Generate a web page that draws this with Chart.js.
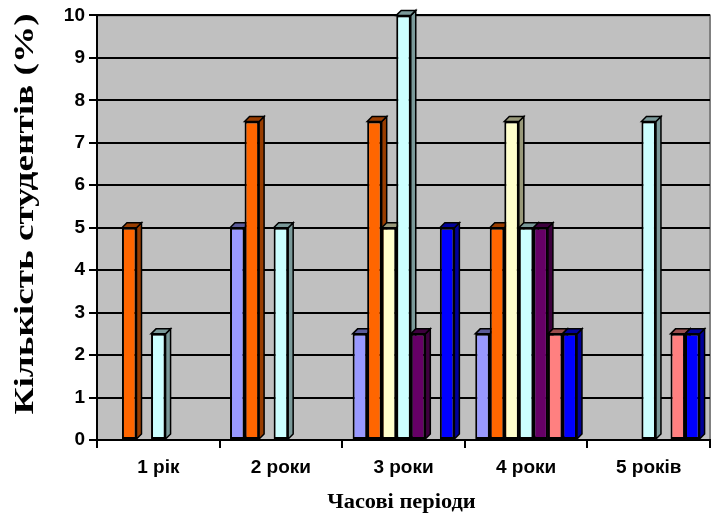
<!DOCTYPE html>
<html>
<head>
<meta charset="utf-8">
<script src="https://cdn.jsdelivr.net/npm/chart.js@4"></script>
<style>
  body { margin: 0; background: #fff; }
  #wrap { width: 713px; height: 518px; }
</style>
</head>
<body>
<div id="wrap"><canvas id="studentsChart" width="713" height="518"></canvas></div>
<script>
// categories and series
const periods = ["1 рік", "2 роки", "3 роки", "4 роки", "5 років"];
const series1 = [0, 5, 2.5, 2.5, 0];
const series2 = [5, 7.5, 7.5, 5, 0];
const series3 = [0, 0, 5, 7.5, 0];
const series4 = [2.5, 5, 10, 5, 7.5];
const series5 = [0, 0, 2.5, 5, 0];
const series6 = [0, 0, 0, 2.5, 2.5];
const series7 = [0, 0, 5, 2.5, 2.5];
const yTicks = [0, 1, 2, 3, 4, 5, 6, 7, 8, 9, 10];
const yTitle = "Кількість студентів (%)";
const xTitle = "Часові періоди";

const fronts = ["#9999FF", "#FF6600", "#FFFFCC", "#CCFFFF", "#660066", "#FF8080", "#0000FF"];
const sides = ["#5C5C99", "#993D00", "#99997A", "#7A9999", "#3D003D", "#994D4D", "#000099"];
const allSeries = [series1, series2, series3, series4, series5, series6, series7];

const depth = 5;

// gray plot wall behind everything
const wallPlugin = {
    id: "wall",
    beforeDraw(chart) {
        const a = chart.chartArea;
        const ctx = chart.ctx;
        ctx.save();
        ctx.fillStyle = "#C0C0C0";
        ctx.fillRect(a.left, a.top, a.right - a.left, a.bottom - a.top);
        ctx.strokeStyle = "#808080";
        ctx.lineWidth = 2;
        ctx.beginPath();
        ctx.moveTo(a.left, a.top);
        ctx.lineTo(a.right, a.top);
        ctx.lineTo(a.right, a.bottom);
        ctx.stroke();
        ctx.restore();
    }
};

// top and side faces of each bar, drawn before the fronts
const depthPlugin = {
    id: "depth",
    beforeDatasetsDraw(chart) {
        const ctx = chart.ctx;
        ctx.save();
        ctx.lineWidth = 1.5;
        ctx.strokeStyle = "#000";
        chart.data.datasets.forEach((ds, i) => {
            const meta = chart.getDatasetMeta(i);
            meta.data.forEach((bar, j) => {
                if (!ds.data[j]) return;
                const left = bar.x - bar.width / 2;
                const right = bar.x + bar.width / 2;
                const top = bar.y;
                const base = bar.base;
                ctx.fillStyle = sides[i];
                ctx.beginPath();
                ctx.moveTo(right, top);
                ctx.lineTo(right + depth, top - depth);
                ctx.lineTo(right + depth, base - depth);
                ctx.lineTo(right, base);
                ctx.closePath();
                ctx.fill();
                ctx.stroke();
                ctx.beginPath();
                ctx.moveTo(left, top);
                ctx.lineTo(left + depth, top - depth);
                ctx.lineTo(right + depth, top - depth);
                ctx.lineTo(right, top);
                ctx.closePath();
                ctx.fill();
                ctx.stroke();
            });
        });
        ctx.restore();
    }
};

// axis titles, drawn a bit wider than the font like the original
const titlesPlugin = {
    id: "titles",
    afterDraw(chart) {
        const a = chart.chartArea;
        const ctx = chart.ctx;
        ctx.save();
        ctx.fillStyle = "#000";
        ctx.textAlign = "center";
        ctx.textBaseline = "alphabetic";

        ctx.save();
        ctx.translate(33, 214);
        ctx.rotate(-Math.PI / 2);
        ctx.scale(1.33, 1);
        ctx.font = "bold 28px 'Liberation Serif'";
        ctx.fillText(yTitle, 0, 0);
        ctx.restore();

        ctx.save();
        ctx.translate((a.left + a.right) / 2 - 2, 508);
        ctx.scale(1.12, 1);
        ctx.font = "bold 20px 'Liberation Serif'";
        ctx.fillText(xTitle, 0, 0);
        ctx.restore();

        ctx.restore();
    }
};

const ctx = document.getElementById("studentsChart").getContext("2d");

new Chart(ctx, {
    type: "bar",
    data: {
        labels: periods,
        datasets: allSeries.map((vals, i) => ({
            label: "Серія " + (i + 1),
            data: vals,
            backgroundColor: fronts[i],
            borderColor: "#000",
            borderWidth: 2,
            borderSkipped: false,
            categoryPercentage: 0.83,
            barPercentage: 1.0
        }))
    },
    options: {
        responsive: false,
        animation: false,
        layout: { padding: { top: 14, right: 3, bottom: 4, left: 8 } },
        plugins: {
            legend: { display: false },
            tooltip: { enabled: false }
        },
        scales: {
            x: {
                afterFit(scale) { scale.height = 74; },
                grid: {
                    offset: true,
                    drawOnChartArea: false,
                    color: "#000",
                    lineWidth: 2,
                    tickLength: 8
                },
                border: { color: "#000", width: 2 },
                ticks: {
                    color: "#000",
                    padding: 8,
                    font: { family: "Liberation Sans", weight: "bold", size: 19 }
                }
            },
            y: {
                min: 0,
                max: 10,
                afterFit(scale) { scale.width = 89; },
                afterBuildTicks(scale) {
                    scale.ticks = yTicks.map(v => ({ value: v }));
                },
                grid: {
                    color: "#000",
                    lineWidth: 2,
                    tickLength: 8
                },
                border: { color: "#000", width: 2 },
                ticks: {
                    color: "#000",
                    padding: 4,
                    font: { family: "Liberation Sans", weight: "bold", size: 19 }
                }
            }
        }
    },
    plugins: [wallPlugin, depthPlugin, titlesPlugin]
});
</script>
</body>
</html>
